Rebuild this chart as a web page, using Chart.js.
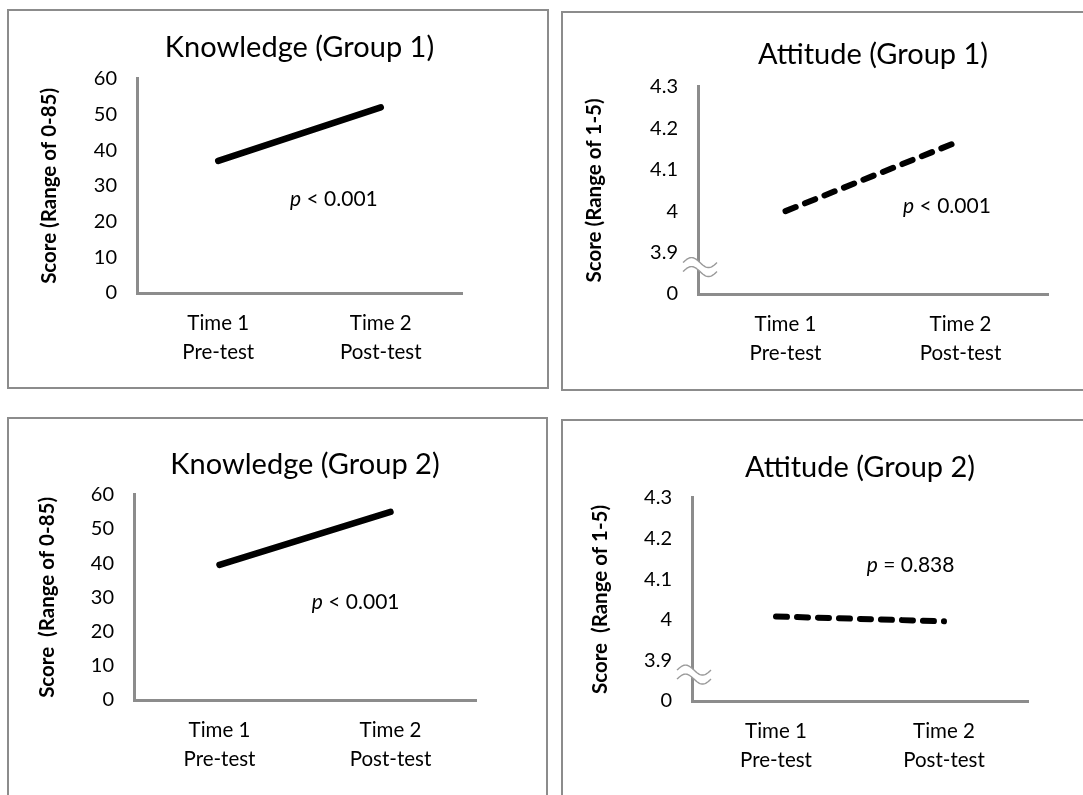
<!DOCTYPE html>
<html><head><meta charset="utf-8">
<script src="https://cdn.jsdelivr.net/npm/chart.js@4.4.0/dist/chart.umd.min.js"></script>
<style>
html,body{margin:0;padding:0;background:#fff;overflow:hidden;width:1083px;height:795px;}
.panel{position:absolute;border:2px solid #8c8c8c;box-sizing:border-box;background:#fff;}
.panel canvas{display:block;}
</style></head><body>
<div class="panel" style="left:7px;top:9px;width:542px;height:380px;"><canvas id="c1" width="538" height="376"></canvas></div>
<div class="panel" style="left:561px;top:11px;width:542px;height:380px;"><canvas id="c2" width="538" height="376"></canvas></div>
<div class="panel" style="left:7px;top:417px;width:541px;height:400px;"><canvas id="c3" width="537" height="376"></canvas></div>
<div class="panel" style="left:561px;top:419px;width:542px;height:400px;"><canvas id="c4" width="538" height="376"></canvas></div>
<script>
// ---- data ----
const categories = [["Time 1", "Pre-test"], ["Time 2", "Post-test"]];
const knowledgeGroup1 = [37, 52];
const knowledgeGroup2 = [39.5, 55];
const attitudeGroup1 = [4.0, 4.17];
const attitudeGroup2 = [4.008, 3.996];
const knowledgeTickValues = [0, 10, 20, 30, 40, 50, 60];
const attitudeTickValues = [3.8, 3.9, 4.0, 4.1, 4.2, 4.3];
const attitudeTickLabels = ["0", "3.9", "4", "4.1", "4.2", "4.3"];
const titles = ["Knowledge (Group 1)", "Attitude (Group 1)", "Knowledge (Group 2)", "Attitude (Group 2)"];
const yTitles = ["Score (Range of 0-85)", "Score (Range of 1-5)", "Score  (Range of 0-85)", "Score  (Range of 1-5)"];
const pValues = ["< 0.001", "< 0.001", "< 0.001", "= 0.838"];

// ---- styling ----
const FONT = "Lato, 'Noto Sans', sans-serif";
const AXIS_COLOR = "#8c8c8c";
const TEXT_COLOR = "#000";

const pLabelPlugin = {
  id: "pLabel",
  afterDatasetsDraw(chart, args, opts) {
    if (!opts || !opts.text) return;
    const {ctx, chartArea: a} = chart;
    const x = a.left + opts.fx * (a.right - a.left);
    const y = a.top + opts.fy * (a.bottom - a.top);
    ctx.save();
    ctx.fillStyle = TEXT_COLOR;
    ctx.textBaseline = "middle";
    ctx.textAlign = "left";
    ctx.font = "italic " + opts.size + "px " + FONT;
    ctx.fillText("p", x, y);
    const w = ctx.measureText("p").width;
    ctx.font = opts.size + "px " + FONT;
    ctx.fillText(" " + opts.text, x + w, y);
    ctx.restore();
  }
};

const axisBreakPlugin = {
  id: "axisBreak",
  afterDraw(chart, args, opts) {
    if (!opts || opts.value === undefined) return;
    const {ctx, chartArea: a} = chart;
    const y0 = chart.scales.y.getPixelForValue(opts.value);
    const x0 = a.left + 2;
    const half = 17, amp = 5, gap = 4.5;
    const wave = (dy) => {
      const pts = [];
      for (let i = 0; i <= 34; i++) {
        const t = i / 34;
        pts.push([x0 - half + t * 2 * half, y0 + dy - amp * Math.sin(t * 2 * Math.PI)]);
      }
      return pts;
    };
    const up = wave(-gap), lo = wave(gap);
    ctx.save();
    ctx.beginPath();
    up.forEach((p, i) => i ? ctx.lineTo(p[0], p[1]) : ctx.moveTo(p[0], p[1]));
    for (let i = lo.length - 1; i >= 0; i--) ctx.lineTo(lo[i][0], lo[i][1]);
    ctx.closePath();
    ctx.fillStyle = "#fff";
    ctx.fill();
    ctx.strokeStyle = "#9a9a9a";
    ctx.lineWidth = 1.4;
    [up, lo].forEach(pts => {
      ctx.beginPath();
      pts.forEach((p, i) => i ? ctx.lineTo(p[0], p[1]) : ctx.moveTo(p[0], p[1]));
      ctx.stroke();
    });
    ctx.restore();
  }
};

function makeChart(id, cfg) {
  const isAtt = cfg.kind === "attitude";
  const ticksVals = isAtt ? attitudeTickValues : knowledgeTickValues;
  return new Chart(document.getElementById(id), {
    type: "line",
    data: {
      labels: categories,
      datasets: [{
        data: cfg.values,
        borderColor: "#000",
        borderWidth: isAtt ? 6 : 6.5,
        borderDash: isAtt ? [11, 10] : [],
        borderCapStyle: "round",
        pointRadius: 0,
        tension: 0,
        fill: false
      }]
    },
    options: {
      responsive: false,
      animation: false,
      layout: {padding: {left: 0, top: 0, right: cfg.padRight, bottom: 0}},
      plugins: {
        legend: {display: false},
        tooltip: {enabled: false},
        title: {
          display: true, text: cfg.title, color: "#000", fullSize: false,
          font: {family: FONT, size: 29, weight: "normal"},
          padding: {top: cfg.titleTop, bottom: cfg.titleBottom}
        },
        pLabel: {text: cfg.p, fx: cfg.pfx, fy: cfg.pfy, size: 21},
        axisBreak: isAtt ? {value: 3.865} : {}
      },
      scales: {
        x: {
          type: "category", offset: true,
          grid: {display: false, drawTicks: false},
          border: {display: true, color: AXIS_COLOR, width: 3},
          ticks: {color: TEXT_COLOR, padding: 16, font: {family: FONT, size: 20.5, lineHeight: 1.42}},
          afterFit(s) { s.height = cfg.xH; }
        },
        y: {
          min: ticksVals[0], max: ticksVals[ticksVals.length - 1],
          grid: {display: false, drawTicks: false},
          border: {display: true, color: AXIS_COLOR, width: 3},
          afterBuildTicks(s) { s.ticks = ticksVals.map(v => ({value: v})); },
          ticks: {
            color: TEXT_COLOR, padding: 20, font: {family: FONT, size: 20},
            callback(v, i) { return isAtt ? attitudeTickLabels[i] : String(knowledgeTickValues[i]); }
          },
          title: {display: true, text: cfg.yTitle, color: "#000",
                  font: {family: FONT, size: 20.5, weight: "bold"}, padding: {top: cfg.yTitlePad, bottom: 0}},
          afterFit(s) { s.width = cfg.yW; }
        }
      }
    },
    plugins: [pLabelPlugin, axisBreakPlugin]
  });
}

makeChart("c1", {kind: "knowledge", values: knowledgeGroup1, title: titles[0], yTitle: yTitles[0], p: pValues[0],
  padRight: 85, titleTop: 19, titleBottom: 14, xH: 94, yW: 128, yTitlePad: 28, pfx: 0.471, pfy: 0.563});
makeChart("c2", {kind: "attitude", values: attitudeGroup1, title: titles[1], yTitle: yTitles[1], p: pValues[1],
  padRight: 53, titleTop: 24, titleBottom: 15, xH: 95, yW: 135, yTitlePad: 19, pfx: 0.586, pfy: 0.578});
makeChart("c3", {kind: "knowledge", values: knowledgeGroup2, title: titles[2], yTitle: yTitles[2], p: pValues[2],
  padRight: 70, titleTop: 28, titleBottom: 13, xH: 95, yW: 125, yTitlePad: 26, pfx: 0.52, pfy: 0.525});
makeChart("c4", {kind: "attitude", values: attitudeGroup2, title: titles[3], yTitle: yTitles[3], p: pValues[3],
  padRight: 73, titleTop: 29, titleBottom: 13, xH: 96, yW: 129, yTitlePad: 25, pfx: 0.52, pfy: 0.33});
</script>
</body></html>
